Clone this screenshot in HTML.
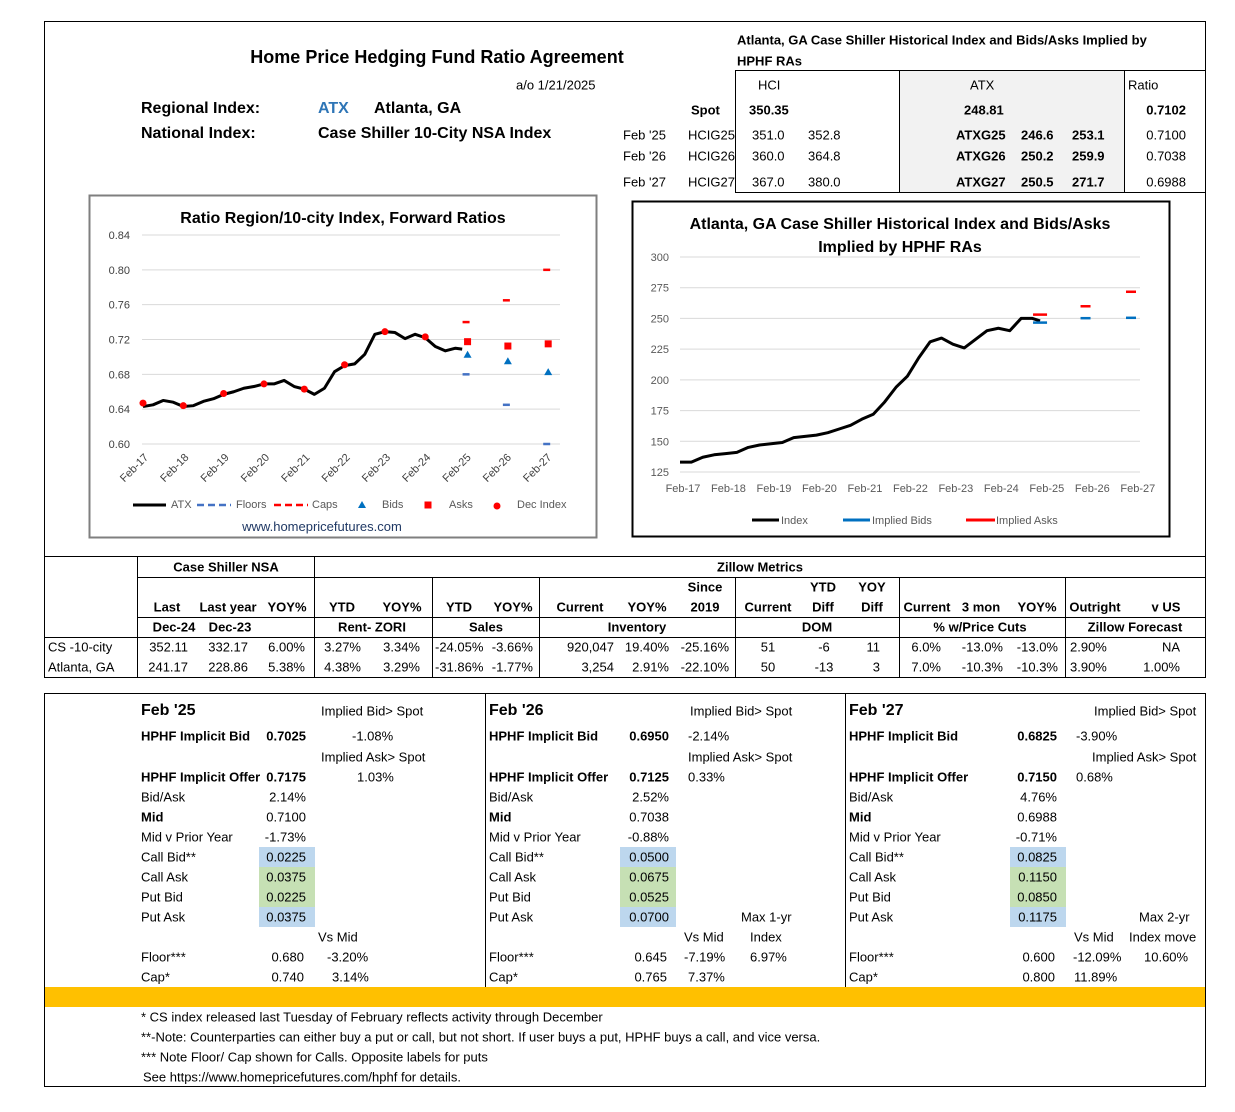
<!DOCTYPE html>
<html><head><meta charset="utf-8">
<style>
body{margin:0;background:#fff;}
#pg{position:relative;width:1235px;height:1112px;overflow:hidden;font-family:"Liberation Sans",Arial,sans-serif;color:#000;}
.t{position:absolute;white-space:nowrap;line-height:1;font-size:13px;}
.bx{position:absolute;box-sizing:border-box;}
svg text{font-family:"Liberation Sans",Arial,sans-serif;}
</style></head>
<body>
<div id="pg">
  <div class="bx" style="left:44px;top:21px;width:1162px;height:536px;border:1px solid #000;"></div>
  <div class="bx" style="left:735px;top:70px;width:471px;height:123px;border-left:1px solid #000;border-top:1px solid #000;border-bottom:1px solid #000;"></div>
  <div class="bx" style="left:899px;top:71px;width:226px;height:121px;background:#f2f2f2;border-left:1px solid #000;border-right:1px solid #000;"></div>
  <div class="bx" style="left:44px;top:556px;width:1162px;height:122px;border:1px solid #000;"></div>
  <div class="bx" style="left:44px;top:693px;width:1162px;height:394px;border:1px solid #000;"></div>
  <div class="bx" style="left:45px;top:987px;width:1160px;height:20px;background:#FFC000;"></div>
  <div class="bx" style="left:485px;top:694px;width:1px;height:293px;background:#000;"></div>
  <div class="bx" style="left:845px;top:694px;width:1px;height:293px;background:#000;"></div>
  <svg id="charts" width="1235" height="1112" style="position:absolute;left:0;top:0;"></svg>
</div>
<script>
// ===== Chart 1 data: Ratio Region/10-city =====
const c1Months = [0,3,6,9,12,15,18,21,24,27,30,33,36,39,42,45,48,51,54,57,60,63,66,69,72,75,78,81,84,87,90,93,95];
const c1Ratio = [0.643,0.645,0.650,0.648,0.643,0.644,0.649,0.652,0.657,0.660,0.664,0.666,0.669,0.669,0.673,0.666,0.663,0.657,0.664,0.683,0.690,0.692,0.703,0.726,0.729,0.728,0.721,0.726,0.722,0.712,0.707,0.710,0.709];
const c1DecMonths = [0,12,24,36,48,60,72,84];
const c1DecIndex = [0.647,0.644,0.658,0.669,0.663,0.691,0.729,0.723];
const c1FwdMonths = [96,108,120];
const c1Caps = [0.740,0.765,0.800];
const c1Asks = [0.7175,0.7125,0.715];
const c1Bids = [0.7025,0.695,0.6825];
const c1Floors = [0.680,0.645,0.600];
const c1YTicks = [0.60,0.64,0.68,0.72,0.76,0.80,0.84];
const c1XLabels = ["Feb-17","Feb-18","Feb-19","Feb-20","Feb-21","Feb-22","Feb-23","Feb-24","Feb-25","Feb-26","Feb-27"];
// ===== Chart 2 data: Atlanta index =====
const c2Months = [0,3,6,9,12,15,18,21,24,27,30,33,36,39,42,45,48,51,54,57,60,63,66,69,72,75,78,81,84,87,90,93,95];
const c2Index = [133,133,137,139,140,141,145,147,148,149,153,154,155,157,160,163,168,172,182,194,203,218,231,234,229,226,233,240,242,240,250,250,248];
const c2FwdMonths = [95,107,119];
const c2Bids = [246.6,250.2,250.5];
const c2Asks = [253.1,259.9,271.7];
const c2YTicks = [125,150,175,200,225,250,275,300];
const c2XLabels = ["Feb-17","Feb-18","Feb-19","Feb-20","Feb-21","Feb-22","Feb-23","Feb-24","Feb-25","Feb-26","Feb-27"];

const NS="http://www.w3.org/2000/svg";
const svg=document.getElementById('charts');
function S(tag,attrs,name){const e=document.createElementNS(NS,tag);for(const k in attrs)e.setAttribute(k,attrs[k]);


svg.appendChild(e);return e;}
function ST(x,y,txt,attrs,name){const e=S('text',Object.assign({x:x,y:y},attrs),name);e.textContent=txt;return e;}

// chart 1
const x1=i=>143+i*3.36, y1=v=>235+(0.84-v)/0.24*209;
S('rect',{x:89.5,y:195.5,width:507,height:342,fill:'none',stroke:'#7f7f7f','stroke-width':2},'ratio-chart-frame');
ST(343,223,'Ratio Region/10-city Index, Forward Ratios',{'text-anchor':'middle','font-size':16,'font-weight':'bold'},'ratio-chart-title');
c1YTicks.forEach(v=>{S('line',{x1:142,x2:560,y1:y1(v),y2:y1(v),stroke:'#d9d9d9'},'ratio-gridline');
 ST(130,y1(v)+4,v.toFixed(2),{'text-anchor':'end','font-size':11,fill:'#404040'},'ratio-y-tick');});
c1XLabels.forEach((l,k)=>{const x=x1(k*12)+6,y=458;ST(x,y,l,{'text-anchor':'end','font-size':11,fill:'#404040',transform:`rotate(-45 ${x} ${y})`},'ratio-x-tick');});
S('polyline',{points:c1Months.map((m,k)=>x1(m)+','+y1(c1Ratio[k])).join(' '),fill:'none',stroke:'#000','stroke-width':3,'stroke-linejoin':'round'},'atx-ratio-line');
c1DecMonths.forEach((m,k)=>S('circle',{cx:x1(m),cy:y1(c1DecIndex[k]),r:3.5,fill:'#ff0000'},'dec-index-point'));
c1FwdMonths.forEach((m,k)=>{
 S('line',{x1:x1(m)-3,x2:x1(m)+4,y1:y1(c1Caps[k]),y2:y1(c1Caps[k]),stroke:'#ff0000','stroke-width':2.5},'cap-mark');
 S('line',{x1:x1(m)-3,x2:x1(m)+4,y1:y1(c1Floors[k]),y2:y1(c1Floors[k]),stroke:'#4472C4','stroke-width':2.5},'floor-mark');
 const ax=x1(m)+2;S('rect',{x:ax-3.5,y:y1(c1Asks[k])-3.5,width:7,height:7,fill:'#ff0000'},'ask-mark');
 const by=y1(c1Bids[k]);S('polygon',{points:`${ax-4},${by+3} ${ax+4},${by+3} ${ax},${by-4}`,fill:'#0070C0'},'bid-mark');
});
S('line',{x1:133,x2:166,y1:505,y2:505,stroke:'#000','stroke-width':3},'legend-atx-swatch');
ST(171,508,'ATX',{'font-size':11,fill:'#595959'},'legend-atx');
S('line',{x1:197,x2:231,y1:505,y2:505,stroke:'#4472C4','stroke-width':2.5,'stroke-dasharray':'7,4'},'legend-floors-swatch');
ST(236,508,'Floors',{'font-size':11,fill:'#595959'},'legend-floors');
S('line',{x1:274,x2:308,y1:505,y2:505,stroke:'#ff0000','stroke-width':2.5,'stroke-dasharray':'7,4'},'legend-caps-swatch');
ST(312,508,'Caps',{'font-size':11,fill:'#595959'},'legend-caps');
S('polygon',{points:'358,508 366,508 362,501',fill:'#0070C0'},'legend-bids-swatch');
ST(382,508,'Bids',{'font-size':11,fill:'#595959'},'legend-bids');
S('rect',{x:424.5,y:501.5,width:7,height:7,fill:'#ff0000'},'legend-asks-swatch');
ST(449,508,'Asks',{'font-size':11,fill:'#595959'},'legend-asks');
S('circle',{cx:497,cy:506,r:3.5,fill:'#ff0000'},'legend-dec-swatch');
ST(517,508,'Dec Index',{'font-size':11,fill:'#595959'},'legend-dec-index');
ST(322,531,'www.homepricefutures.com',{'text-anchor':'middle','font-size':13,fill:'#1F3864'},'website-link');

// chart 2
const x2=i=>680+i*3.79, y2=v=>257+(300-v)/175*215;
S('rect',{x:632.5,y:201.5,width:537,height:335,fill:'none',stroke:'#000','stroke-width':2},'index-chart-frame');
ST(900,229,'Atlanta, GA Case Shiller Historical Index and Bids/Asks',{'text-anchor':'middle','font-size':16,'font-weight':'bold'},'index-chart-title-1');
ST(900,252,'Implied by HPHF RAs',{'text-anchor':'middle','font-size':16,'font-weight':'bold'},'index-chart-title-2');
c2YTicks.forEach(v=>{S('line',{x1:680,x2:1140,y1:y2(v),y2:y2(v),stroke:'#d9d9d9'},'index-gridline');
 ST(669,y2(v)+4,String(v),{'text-anchor':'end','font-size':11,fill:'#595959'},'index-y-tick');});
c2XLabels.forEach((l,k)=>ST(x2(k*12)+3,492,l,{'text-anchor':'middle','font-size':11,fill:'#595959'},'index-x-tick'));
S('polyline',{points:c2Months.map((m,k)=>x2(m)+','+y2(c2Index[k])).join(' '),fill:'none',stroke:'#000','stroke-width':3,'stroke-linejoin':'round'},'atlanta-index-line');
c2FwdMonths.forEach((m,k)=>{const w=k===0?14:10;
 S('line',{x1:x2(m)-w/2,x2:x2(m)+w/2,y1:y2(c2Bids[k]),y2:y2(c2Bids[k]),stroke:'#0070C0','stroke-width':2.5},'implied-bid-mark');
 S('line',{x1:x2(m)-w/2,x2:x2(m)+w/2,y1:y2(c2Asks[k]),y2:y2(c2Asks[k]),stroke:'#ff0000','stroke-width':2.5},'implied-ask-mark');});
S('line',{x1:752,x2:779,y1:520,y2:520,stroke:'#000','stroke-width':3},'legend-index-swatch');
ST(781,524,'Index',{'font-size':11,fill:'#595959'},'legend-index');
S('line',{x1:843,x2:870,y1:520,y2:520,stroke:'#0070C0','stroke-width':3},'legend-bids-swatch');
ST(872,524,'Implied Bids',{'font-size':11,fill:'#595959'},'legend-implied-bids');
S('line',{x1:966,x2:995,y1:520,y2:520,stroke:'#ff0000','stroke-width':3},'legend-asks-swatch');
ST(996,524,'Implied Asks',{'font-size':11,fill:'#595959'},'legend-implied-asks');

// ===== text layer =====
const pg=document.getElementById('pg');
function T(x,y,txt,a,o){o=o||{};const e=document.createElement('div');e.className='t';e.textContent=txt;


const tx=a==='r'?'-100%':a==='c'?'-50%':'0';e.style.left=x+'px';e.style.top=y+'px';e.style.transform=`translate(${tx},-50%)`;
if(o.b)e.style.fontWeight='bold';if(o.s)e.style.fontSize=o.s+'px';if(o.c)e.style.color=o.c;pg.appendChild(e);return e;}
function L(x,y,w,h,n){const e=document.createElement('div');e.className='bx';e.style.cssText=`left:${x}px;top:${y}px;width:${w}px;height:${h}px;background:#000`;


pg.appendChild(e);}

T(437,57,'Home Price Hedging Fund Ratio Agreement','c',{b:1,s:18,n:'page-title'});
T(516,85,'a/o 1/21/2025','l',{n:'as-of-date'});
T(141,109,'Regional Index:','l',{b:1,s:16,n:'regional-index-label'});
T(318,109,'ATX','l',{b:1,s:16,c:'#2E75B6',n:'regional-index-code'});
T(374,109,'Atlanta, GA','l',{b:1,s:16,n:'regional-index-name'});
T(141,134,'National Index:','l',{b:1,s:16,n:'national-index-label'});
T(318,134,'Case Shiller 10-City NSA Index','l',{b:1,s:16,n:'national-index-name'});
T(737,40,'Atlanta, GA Case Shiller Historical Index and Bids/Asks Implied by','l',{b:1,n:'futures-table-title'});
T(737,61,'HPHF RAs','l',{b:1,n:'futures-table-title-2'});
T(758,85,'HCI','l',{n:'hci-header'});T(970,85,'ATX','l',{n:'atx-header'});T(1128,85,'Ratio','l',{n:'ratio-header'});
T(691,110,'Spot','l',{b:1,n:'spot-label'});T(749,110,'350.35','l',{b:1,n:'hci-spot'});T(964,110,'248.81','l',{b:1,n:'atx-spot'});T(1186,110,'0.7102','r',{b:1,n:'ratio-spot'});
[[135,"Feb '25","HCIG25","351.0","352.8","ATXG25","246.6","253.1","0.7100"],[156,"Feb '26","HCIG26","360.0","364.8","ATXG26","250.2","259.9","0.7038"],[182,"Feb '27","HCIG27","367.0","380.0","ATXG27","250.5","271.7","0.6988"]].forEach(r=>{
 const y=r[0];T(623,y,r[1],'l',{n:'contract-month'});T(688,y,r[2],'l',{n:'hci-contract'});T(752,y,r[3],'l',{n:'hci-bid'});T(808,y,r[4],'l',{n:'hci-ask'});
 T(956,y,r[5],'l',{b:1,n:'atx-contract'});T(1021,y,r[6],'l',{b:1,n:'atx-bid'});T(1072,y,r[7],'l',{b:1,n:'atx-ask'});T(1186,y,r[8],'r',{n:'forward-ratio'});});

// metrics table lines
L(137,556,1,122,'vline');[314,432,539,735,899,1065].forEach(x=>L(x,577,1,101,'vline'));L(314,556,1,21,'vline');
L(137,577,1069,1,'hline');L(137,617,1069,1,'hline');L(44,637,1162,1,'hline');
T(226,567,'Case Shiller NSA','c',{b:1,n:'case-shiller-header'});T(760,567,'Zillow Metrics','c',{b:1,n:'zillow-header'});
T(705,587,'Since','c',{b:1});T(823,587,'YTD','c',{b:1});T(872,587,'YOY','c',{b:1});
[[167,'Last'],[228,'Last year'],[287,'YOY%'],[342,'YTD'],[402,'YOY%'],[459,'YTD'],[513,'YOY%'],[580,'Current'],[647,'YOY%'],[705,'2019'],[768,'Current'],[823,'Diff'],[872,'Diff'],[927,'Current'],[981,'3 mon'],[1037,'YOY%'],[1095,'Outright'],[1166,'v US']].forEach(c=>T(c[0],607,c[1],'c',{b:1,n:'column-header'}));
[[174,'Dec-24'],[230,'Dec-23'],[372,'Rent- ZORI'],[486,'Sales'],[637,'Inventory'],[817,'DOM'],[980,'% w/Price Cuts'],[1135,'Zillow Forecast']].forEach(c=>T(c[0],627,c[1],'c',{b:1,n:'group-header'}));
const rowPos=[['r',188],['r',248],['r',305],['r',361],['r',420],['l',435],['r',533],['r',614],['r',669],['r',729],['c',768],['c',824],['r',880],['r',941],['r',1003],['r',1058],['l',1070],['r',1180]];
[[647,'CS -10-city',['352.11','332.17','6.00%','3.27%','3.34%','-24.05%','-3.66%','920,047','19.40%','-25.16%','51','-6','11','6.0%','-13.0%','-13.0%','2.90%','NA']],
 [667,'Atlanta, GA',['241.17','228.86','5.38%','4.38%','3.29%','-31.86%','-1.77%','3,254','2.91%','-22.10%','50','-13','3','7.0%','-10.3%','-10.3%','3.90%','1.00%']]].forEach(r=>{
 T(48,r[0],r[1],'l',{n:'row-label'});r[2].forEach((v,k)=>T(rowPos[k][1],r[0],v,rowPos[k][0],{n:'metric-value'}));});

// option panels
const panels=[
 {lx:141,vr:306,cl:259,title:"Feb '25",v:['0.7025','0.7175','2.14%','0.7100','-1.73%','0.0225','0.0375','0.0225','0.0375','0.680','0.740']},
 {lx:489,vr:669,cl:620,title:"Feb '26",v:['0.6950','0.7125','2.52%','0.7038','-0.88%','0.0500','0.0675','0.0525','0.0700','0.645','0.765']},
 {lx:849,vr:1057,cl:1010,title:"Feb '27",v:['0.6825','0.7150','4.76%','0.6988','-0.71%','0.0825','0.1150','0.0850','0.1175','0.600','0.800']}];
const labels=[['HPHF Implicit Bid',736,1],['HPHF Implicit Offer',777,1],['Bid/Ask',797,0],['Mid',817,1],['Mid v Prior Year',837,0],['Call Bid**',857,0],['Call Ask',877,0],['Put Bid',897,0],['Put Ask',917,0],['Floor***',957,0],['Cap*',977,0]];
const cellColors=['#BDD7EE','#C6E0B4','#C6E0B4','#BDD7EE'];
panels.forEach(p=>{
 cellColors.forEach((c,k)=>{const e=document.createElement('div');e.className='bx';e.style.cssText=`left:${p.cl}px;top:${847+k*20}px;width:56px;height:20px;background:${c}`;
 
 
 pg.appendChild(e);});
 T(p.lx,711,p.title,'l',{b:1,s:16,n:'panel-title'});
 labels.forEach((l,k)=>{T(p.lx,l[1],l[0],'l',{b:l[2],n:'panel-label'});
  T(k>=9?p.vr-2:p.vr,l[1],p.v[k],'r',{b:k<2,n:'panel-value'});});
});
// third columns
T(321,711,'Implied Bid> Spot','l');T(352,736,'-1.08%','l');T(321,757,'Implied Ask> Spot','l');T(357,777,'1.03%','l');
T(318,937,'Vs Mid','l');T(327,957,'-3.20%','l');T(332,977,'3.14%','l');
T(690,711,'Implied Bid> Spot','l');T(688,736,'-2.14%','l');T(688,757,'Implied Ask> Spot','l');T(688,777,'0.33%','l');
T(741,917,'Max 1-yr','l');T(684,937,'Vs Mid','l');T(750,937,'Index','l');T(684,957,'-7.19%','l');T(750,957,'6.97%','l');T(688,977,'7.37%','l');
T(1094,711,'Implied Bid> Spot','l');T(1076,736,'-3.90%','l');T(1092,757,'Implied Ask> Spot','l');T(1076,777,'0.68%','l');
T(1139,917,'Max 2-yr','l');T(1074,937,'Vs Mid','l');T(1129,937,'Index move','l');T(1073,957,'-12.09%','l');T(1144,957,'10.60%','l');T(1074,977,'11.89%','l');
// notes
T(141,1017,'* CS index released last Tuesday of February reflects activity through December','l',{n:'footnote-1'});
T(141,1037,'**-Note: Counterparties can either buy a put or call, but not short. If user buys a put, HPHF buys a call, and vice versa.','l',{n:'footnote-2'});
T(141,1057,'*** Note Floor/ Cap shown for Calls.   Opposite labels for puts','l',{n:'footnote-3'});
T(143,1077,'See https://www.homepricefutures.com/hphf for details.','l',{n:'footnote-4'});
</script>
</body></html>
